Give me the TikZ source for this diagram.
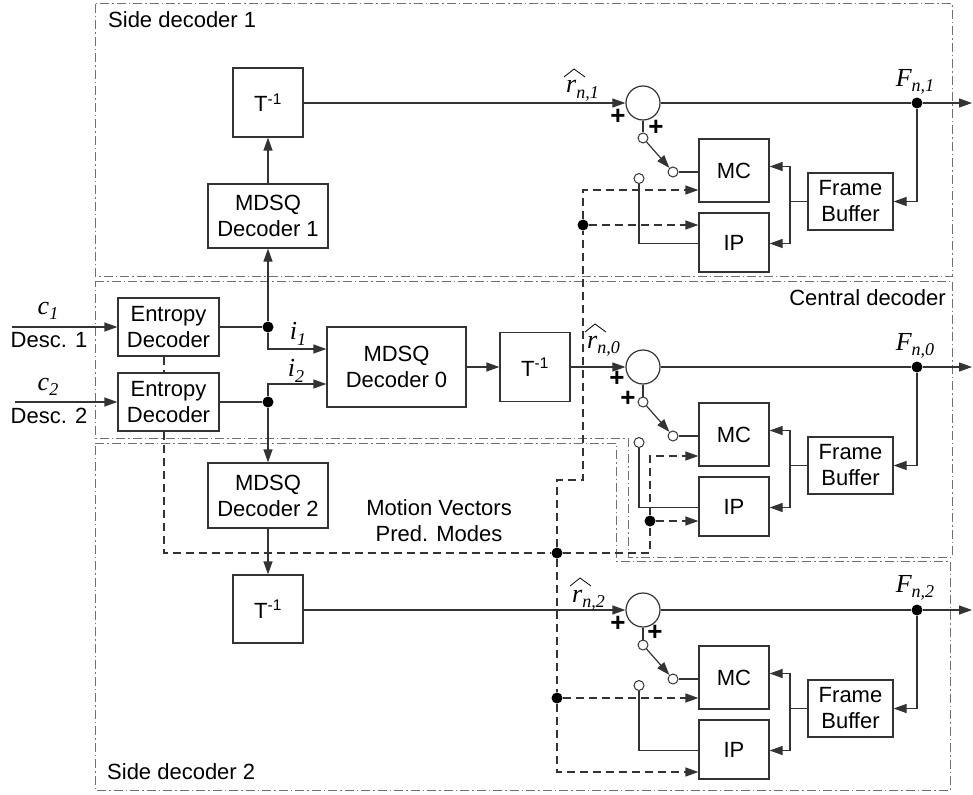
\documentclass[tikz,border=0pt]{standalone}
\usepackage{fontspec}
\setmainfont{Liberation Sans}
\newfontfamily\serifmain{Liberation Serif}
\usetikzlibrary{arrows.meta,calc}
\definecolor{lc}{HTML}{333333}
\definecolor{rc}{HTML}{707070}
\newcommand\myfs{\fontsize{22}{26}\selectfont}
\newcommand\ilab[2]{{\serifmain\itshape\fontsize{26}{26}\selectfont #1\raisebox{-0.22em}{\fontsize{18}{18}\selectfont #2}}}
\tikzset{
 ln/.style={draw=lc, line width=1.2pt},
 arr/.style={ln, -{Triangle[length=13pt,width=9pt]}},
 dsh/.style={ln, dash pattern=on 8pt off 5pt},
 darr/.style={dsh, -{Triangle[length=13pt,width=9pt]}},
 region/.style={draw=rc, line width=1pt, dash pattern=on 9pt off 3pt on 1.5pt off 3pt},
 blk/.style={draw=lc, line width=1.2pt, fill=white, inner sep=0pt, align=center, font=\myfs},
 adder/.style={circle, draw=lc, line width=1.2pt, minimum size=34pt, inner sep=0pt},
 ocirc/.style={circle, draw=lc, line width=1pt, fill=white, minimum size=10pt, inner sep=0pt},
 dot/.style={circle, fill=black, minimum size=11pt, inner sep=0pt},
 lbl/.style={font=\myfs, inner sep=0pt},
 plus/.style={font=\bfseries\fontsize{26}{26}\selectfont, inner sep=0pt},
 hat/.style={draw=black, line width=0.8pt},
}
% one decoder loop: #1 prefix, #2 y of the adder
\newcommand\decunit[2]{%
 \node[adder] (#1add) at (643,#2) {};
 \node[ocirc] (#1sw) at (643,#2+35) {};
 \node[ocirc] (#1swb) at (673,#2+69) {};
 \node[ocirc] (#1ipc) at (639,#2+75.5) {};
 \node[blk, minimum width=70pt, minimum height=63pt] (#1mc) at (734,#2+67.5) {MC};
 \node[blk, minimum width=70pt, minimum height=59pt] (#1ip) at (734,#2+139.5) {IP};
 \node[blk, minimum width=85pt, minimum height=57pt] (#1fb) at (850.5,#2+98.5) {Frame\\Buffer};
 \node[dot] (#1dot) at (917,#2) {};
 \coordinate (#1out) at (972,#2);
 \coordinate (#1fbj) at (790,#2+98.5);
 \draw[ln] (#1add.south) -- (#1sw);
 \draw[arr] (#1sw) -- (#1swb);
 \draw[ln] (#1swb.east) -- (#1swb -| #1mc.west);
 \draw[ln] (#1ipc.south) |- ([yshift=-1pt]#1ip.west);
 \draw[ln] (#1fb.west) -- (#1fbj);
 \draw[arr] (#1fbj) |- ([yshift=4pt]#1mc.east);
 \draw[arr] (#1fbj) |- ([yshift=-1pt]#1ip.east);
 \draw[ln] (#1add.east) -- (#1dot);
 \draw[arr] (#1dot) -- (#1out);
 \draw[arr] (#1dot) |- (#1fb.east);
}
% r-hat label: #1 name, #2 x of r, #3 baseline y, #4 subscript
\newcommand\rhat[4]{%
 \node[inner sep=0pt, anchor=base west] (#1) at (#2,#3) {\ilab{r}{#4}};
 \draw[hat] (#2-2,#3-16) -- (#2+8,#3-24) -- (#2+19,#3-16);
}
\begin{document}
\begin{tikzpicture}[x=1pt,y=-1pt]
\useasboundingbox (0,0) rectangle (973,794);
% regions
\draw[region] (95,4) rectangle (952,276);
\draw[region] (95,281) -- (952,281) -- (952,557) -- (628,557) -- (628,438) -- (95,438) -- cycle;
\draw[region] (95,443) -- (616,443) -- (616,561) -- (950,561) -- (950,790) -- (95,790) -- cycle;
\node[lbl, anchor=west] at (108,20) {Side decoder 1};
\node[lbl, anchor=east] at (946,298) {Central decoder};
\node[lbl, anchor=west] at (107,772) {Side decoder 2};

% left part
\node[blk, minimum width=101pt, minimum height=58pt] (ed1) at (168.5,327) {Entropy\\Decoder};
\node[blk, minimum width=101pt, minimum height=58pt] (ed2) at (168.5,402) {Entropy\\Decoder};
\coordinate (c1in) at (12,327);
\coordinate (c2in) at (15,402);
\draw[arr] (c1in) -- (ed1.west);
\draw[arr] (c2in) -- (ed2.west);
\node[inner sep=0pt] at (48,311) {\ilab{c}{1}};
\node[lbl] at (49,340) {Desc. 1};
\node[inner sep=0pt] at (48,387) {\ilab{c}{2}};
\node[lbl] at (49,416) {Desc. 2};

\node[blk, minimum width=70pt, minimum height=69pt] (t1) at (268,102.5) {T\textsuperscript{-1}};
\node[blk, minimum width=120pt, minimum height=64pt] (m1) at (268,216) {MDSQ\\Decoder 1};
\node[blk, minimum width=139pt, minimum height=80pt] (m0) at (396.5,367) {MDSQ\\Decoder 0};
\node[blk, minimum width=70pt, minimum height=69pt] (t0) at (535,367) {T\textsuperscript{-1}};
\node[blk, minimum width=120pt, minimum height=65pt] (m2) at (268,495.5) {MDSQ\\Decoder 2};
\node[blk, minimum width=70pt, minimum height=68pt] (t2) at (268,609) {T\textsuperscript{-1}};

\node[dot] (j1) at (268,327) {};
\node[dot] (j2) at (268,402) {};
\draw[ln] (ed1.east) -- (j1);
\draw[ln] (ed2.east) -- (j2);
\draw[arr] (j1) -- (m1.south);
\draw[arr] (m1.north) -- (t1.south);
\draw[arr] (j1) |- ([yshift=18pt]m0.west);
\draw[arr] (j2) |- ([yshift=-17pt]m0.west);
\draw[arr] (j2) -- (m2.north);
\draw[arr] (m2.south) -- (t2.north);
\draw[arr] (m0.east) -- (t0.west);
\node[inner sep=0pt] at (298,334) {\ilab{i}{1}};
\node[inner sep=0pt] at (296,371) {\ilab{i}{2}};

\node[lbl, align=center] at (439,521) {Motion Vectors\\Pred. Modes};

% decoder loops
\decunit{a1}{103}
\decunit{a0}{367}
\decunit{a2}{610}
\draw[arr] (t1.east |- a1add) -- (a1add.west);
\draw[arr] (t0.east |- a0add) -- (a0add.west);
\draw[arr] (t2.east |- a2add) -- (a2add.west);

\rhat{r1}{566}{93}{n,1}
\rhat{r0}{587}{348}{n,0}
\rhat{r2}{572}{602}{n,2}
\node[inner sep=0pt] at (915,82) {\ilab{F}{n,1}};
\node[inner sep=0pt] at (915,346) {\ilab{F}{n,0}};
\node[inner sep=0pt] at (915,588) {\ilab{F}{n,2}};

\node[plus] at (618,117) {+};
\node[plus] at (656,128) {+};
\node[plus] at (617,379) {+};
\node[plus] at (628,399) {+};
\node[plus] at (618,624) {+};
\node[plus] at (655,633) {+};

% motion vectors / prediction modes (dashed)
\node[dot] (dB) at (557,553) {};
\node[dot] (dD) at (650,521) {};
\node[dot] (dH) at (583,225) {};
\node[dot] (dJ) at (557,698) {};
\coordinate (dC) at (650,553);
\coordinate (dE) at (650,456);
\coordinate (dF) at (557,480);
\coordinate (dG) at (583,480);
\coordinate (dI) at (583,190);
\coordinate (dK) at (557,772);
\draw[dsh] ([xshift=-4.5pt]ed1.south) -- ([xshift=-4.5pt]ed2.north);
\draw[dsh] ([xshift=-4.5pt]ed2.south) |- (dB);
\draw[dsh] (dB) -- (dC) -- (dD);
\draw[darr] (dD) -- (dE) -- (dE -| a0mc.west);
\draw[darr] (dD) -- (dD -| a0ip.west);
\draw[dsh] (dB) -- (dF) -- (dG) -- (dH);
\draw[darr] (dH) -- (dI) -- (dI -| a1mc.west);
\draw[darr] (dH) -- (dH -| a1ip.west);
\draw[dsh] (dB) -- (dJ);
\draw[darr] (dJ) -- (dJ -| a2mc.west);
\draw[darr] (dJ) -- (dK) -- (dK -| a2ip.west);
\end{tikzpicture}
\end{document}
